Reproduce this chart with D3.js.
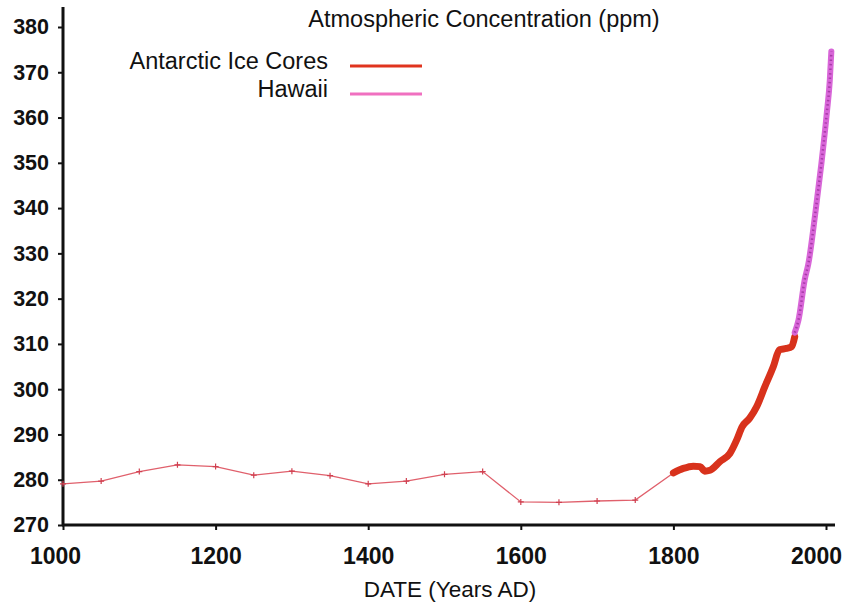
<!DOCTYPE html>
<html>
<head>
<meta charset="utf-8">
<script src="https://cdn.jsdelivr.net/npm/d3@7"></script>
<style>
  html, body { margin: 0; padding: 0; background: #fff; }
  svg { display: block; font-family: "Liberation Sans", Arial, sans-serif; }
</style>
</head>
<body>
<svg id="chart" width="848" height="606"></svg>
<script>
// ---- data ----
const iceEarlyYears  = [1000,1050,1100,1150,1200,1250,1300,1350,1400,1450,1500,1550,1600,1650,1700,1750,1800];
const iceEarlyValues = [279.1,279.7,281.8,283.3,282.9,281.0,281.9,280.9,279.1,279.7,281.2,281.8,275.1,275.0,275.3,275.5,281.5];

const iceRecentYears  = [1800,1813,1826,1835,1841,1848,1861,1874,1883,1890,1900,1909,1920,1931,1939,1948,1955,1959];
const iceRecentValues = [281.5,282.5,283.0,282.9,281.9,282.1,284.0,285.8,288.8,291.7,293.6,296.1,300.6,305.0,308.7,309.0,309.4,311.6];

const hawaiiYears  = [1959,1964,1972,1977,1986,1994,2001,2005,2007];
const hawaiiValues = [312.5,315.3,324.1,327.8,338.9,349.9,360.9,368.3,374.6];

const xTicks = [1000,1200,1400,1600,1800,2000];
const yTicks = [270,280,290,300,310,320,330,340,350,360,370,380];

const titleText = "Atmospheric Concentration (ppm)";
const xLabelText = "DATE (Years AD)";
const legendNames = ["Antarctic Ice Cores", "Hawaii"];

// ---- scales ----
const svg = d3.select("#chart");
const x = d3.scaleLinear().domain([1000, 2000]).range([63, 826]);
const y = d3.scaleLinear().domain([270, 380]).range([525, 27]);

// ---- axes ----
const axisColor = "#111";
const yAxis = svg.append("g").attr("transform", `translate(${x(1000)},0)`)
  .call(d3.axisLeft(y).tickValues(yTicks).tickSize(5).tickPadding(9).tickFormat(d3.format("d")));
yAxis.select(".domain").remove();
yAxis.selectAll(".tick line").attr("stroke", axisColor).attr("stroke-width", 2);
yAxis.selectAll(".tick text").attr("font-size", 21.5).attr("font-weight", "bold").attr("fill", "#111")
  .attr("font-family", "Liberation Sans, Arial, sans-serif");

const xAxis = svg.append("g").attr("transform", `translate(0,${y(270)})`)
  .call(d3.axisBottom(x).tickValues(xTicks).tickSize(5).tickPadding(18).tickFormat(d3.format("d")));
xAxis.select(".domain").remove();
xAxis.selectAll(".tick line").attr("stroke", axisColor).attr("stroke-width", 2);
xAxis.selectAll(".tick text").attr("font-size", 23).attr("font-weight", "bold").attr("fill", "#111")
  .attr("font-family", "Liberation Sans, Arial, sans-serif")
  .attr("dx", (d, i, n) => i === 0 ? -8 : (i === n.length - 1 ? -10 : 0));

svg.append("line").attr("x1", x(1000)).attr("x2", x(1000)).attr("y1", 7).attr("y2", y(270) + 1)
  .attr("stroke", axisColor).attr("stroke-width", 3);
svg.append("line").attr("x1", x(1000) - 1).attr("x2", 835).attr("y1", y(270)).attr("y2", y(270))
  .attr("stroke", axisColor).attr("stroke-width", 3);

// ---- series ----
const early = iceEarlyYears.map((d, i) => [d, iceEarlyValues[i]]);
const recent = iceRecentYears.map((d, i) => [d, iceRecentValues[i]]);
const hawaii = hawaiiYears.map((d, i) => [d, hawaiiValues[i]]);

const lineLin = d3.line().x(d => x(d[0])).y(d => y(d[1]));
const lineSmooth = d3.line().x(d => x(d[0])).y(d => y(d[1])).curve(d3.curveMonotoneX);

svg.append("path").attr("d", lineLin(early)).attr("fill", "none")
  .attr("stroke", "#e0606c").attr("stroke-width", 1.3);
svg.append("g").selectAll("path").data(early).join("path")
  .attr("transform", d => `translate(${x(d[0])},${y(d[1])})`)
  .attr("d", "M-3,0H3M0,-3V3").attr("stroke", "#d04050").attr("stroke-width", 1.2);

svg.append("path").attr("d", lineSmooth(recent)).attr("fill", "none")
  .attr("stroke", "#d8321c").attr("stroke-width", 7).attr("stroke-linecap", "round").attr("stroke-linejoin", "round");

svg.append("path").attr("d", lineSmooth(hawaii)).attr("fill", "none")
  .attr("stroke", "#d866d8").attr("stroke-width", 6).attr("stroke-linecap", "round");
svg.append("path").attr("d", lineSmooth(hawaii)).attr("fill", "none")
  .attr("stroke", "#a83aa8").attr("stroke-width", 2.5).attr("stroke-dasharray", "1.5,3");

// ---- title & labels ----
svg.append("text").attr("x", 484).attr("y", 27).attr("text-anchor", "middle")
  .attr("font-size", 23.5).attr("fill", "#111").text(titleText);
svg.append("text").attr("x", 450).attr("y", 597).attr("text-anchor", "middle")
  .attr("font-size", 22.5).attr("fill", "#111").text(xLabelText);

// ---- legend ----
const legendColors = ["#e0341e", "#f070c0"];
const legendY = [66, 94];
const textBase = [69, 97];
legendNames.forEach((name, i) => {
  svg.append("text").attr("x", 328).attr("y", textBase[i]).attr("text-anchor", "end")
    .attr("font-size", 23.5).attr("fill", "#111").text(name);
  svg.append("line").attr("x1", 350).attr("x2", 422).attr("y1", legendY[i]).attr("y2", legendY[i])
    .attr("stroke", legendColors[i]).attr("stroke-width", 3);
});
</script>
</body>
</html>
